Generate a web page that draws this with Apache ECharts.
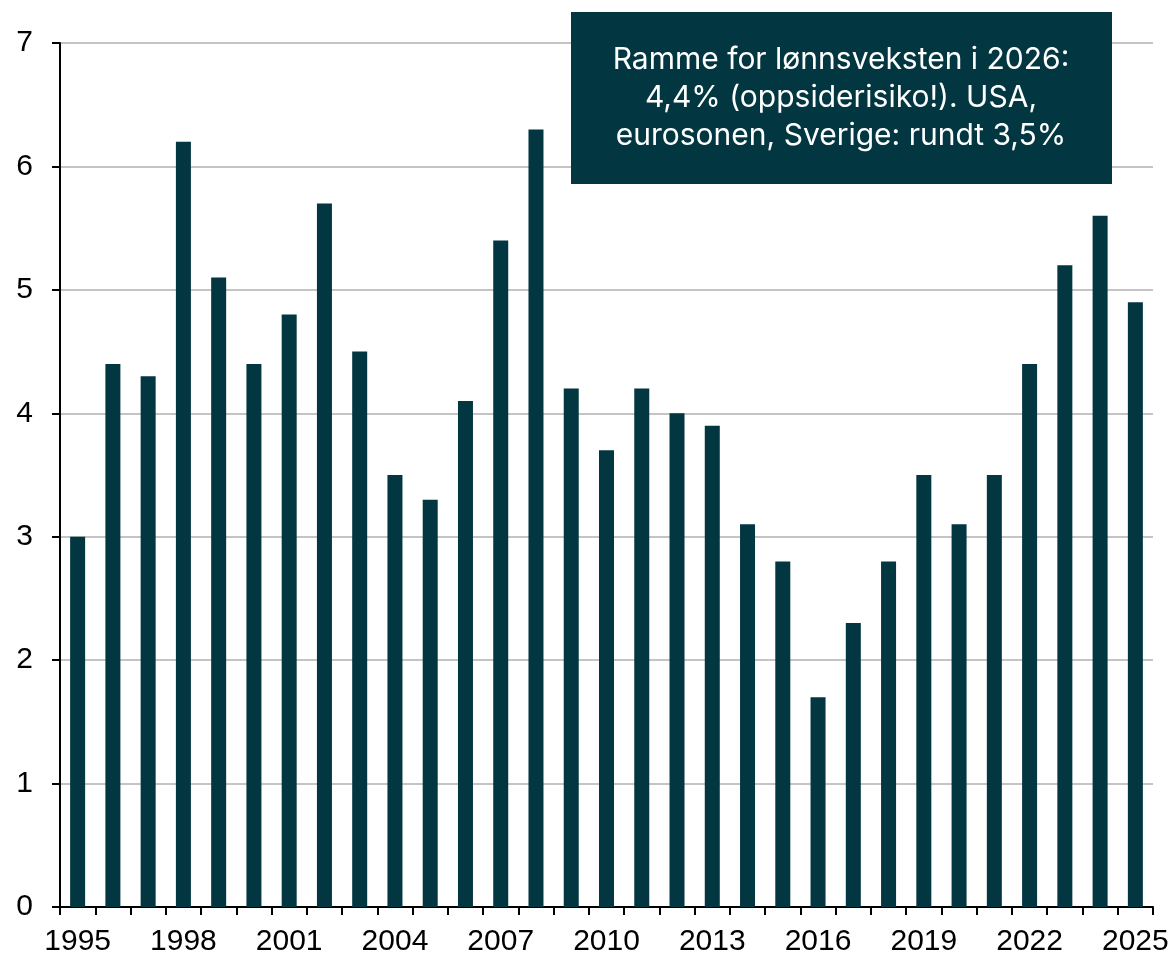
<!DOCTYPE html>
<html>
<head>
<meta charset="utf-8">
<script src="https://cdn.jsdelivr.net/npm/echarts@6/dist/echarts.min.js"></script>
<style>
  html, body { margin: 0; padding: 0; background: #ffffff; }
  #chart { width: 1176px; height: 960px; }
</style>
</head>
<body>
<div id="chart"></div>
<script>
const YEARS = [
  "1995", "1996", "1997", "1998", "1999", "2000", "2001", "2002", "2003", "2004",
  "2005", "2006", "2007", "2008", "2009", "2010", "2011", "2012", "2013", "2014",
  "2015", "2016", "2017", "2018", "2019", "2020", "2021", "2022", "2023", "2024", "2025"
];

const WAGE_GROWTH = [
  3.0, 4.4, 4.3, 6.2, 5.1, 4.4, 4.8, 5.7, 4.5, 3.5,
  3.3, 4.1, 5.4, 6.3, 4.2, 3.7, 4.2, 4.0, 3.9, 3.1,
  2.8, 1.7, 2.3, 2.8, 3.5, 3.1, 3.5, 4.4, 5.2, 5.6, 4.9
];

const NOTE_LINES = [
  "Ramme for lønnsveksten i 2026:",
  "4,4% (oppsiderisiko!). USA,",
  "eurosonen, Sverige: rundt 3,5%"
];

const BAR_COLOR = "#023640";
const AXIS_FONT = "Liberation Sans, Arial, sans-serif";

const chart = echarts.init(document.getElementById("chart"));

chart.setOption({
  backgroundColor: "#ffffff",
  animation: false,
  grid: { left: 60, right: 23, top: 43, bottom: 53, containLabel: false },
  xAxis: {
    type: "category",
    data: YEARS,
    boundaryGap: true,
    axisLine: { lineStyle: { color: "#000000", width: 2 } },
    axisTick: { show: true, interval: 0, length: 8, lineStyle: { color: "#000000", width: 2 } },
    axisLabel: {
      interval: 2,
      margin: 20,
      color: "#000000",
      fontSize: 30,
      fontFamily: AXIS_FONT
    },
    splitLine: { show: false }
  },
  yAxis: {
    type: "value",
    min: 0,
    max: 7,
    interval: 1,
    axisLine: { show: true, lineStyle: { color: "#000000", width: 2 } },
    axisTick: { show: true, length: 8, lineStyle: { color: "#000000", width: 2 } },
    axisLabel: {
      margin: 27,
      color: "#000000",
      fontSize: 30,
      fontFamily: AXIS_FONT
    },
    splitLine: { show: true, lineStyle: { color: "#c4c4c4", width: 2 } }
  },
  series: [{
    type: "bar",
    data: WAGE_GROWTH,
    barWidth: 15,
    itemStyle: { color: BAR_COLOR }
  }],
  graphic: [{
    type: "group",
    left: 571,
    top: 12,
    z: 100,
    children: [
      {
        type: "rect",
        z: 100,
        shape: { x: 0, y: 0, width: 541, height: 172 },
        style: { fill: BAR_COLOR }
      },
      {
        type: "text",
        z: 101,
        x: 270,
        y: 86,
        style: {
          text: NOTE_LINES.join("\n"),
          fill: "#ffffff",
          font: "30px Inter, 'Noto Sans', sans-serif",
          lineHeight: 38,
          align: "center",
          verticalAlign: "middle"
        }
      }
    ]
  }]
});
</script>
</body>
</html>
